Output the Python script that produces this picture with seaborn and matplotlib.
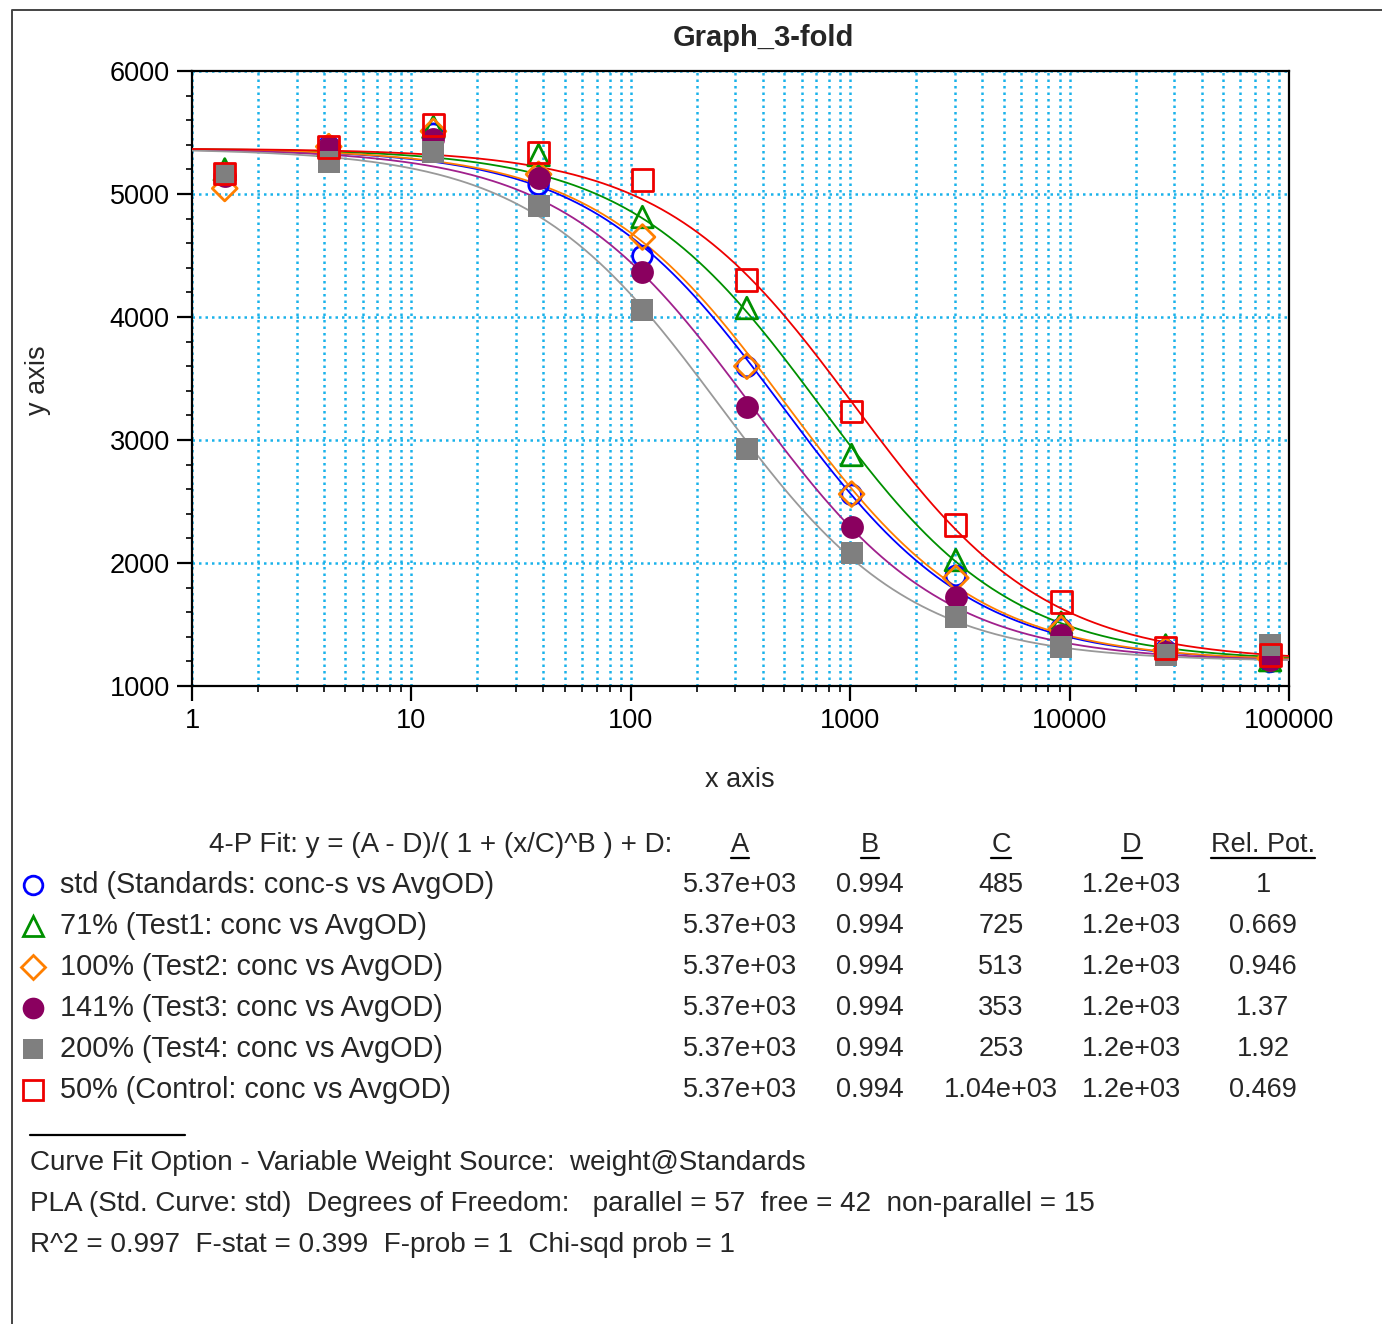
import matplotlib
matplotlib.use("Agg")
import matplotlib.pyplot as plt
import numpy as np
import pandas as pd
import seaborn as sns
from matplotlib.lines import Line2D
from matplotlib.ticker import FixedLocator, FuncFormatter, LogLocator, MultipleLocator, NullFormatter

# 3-fold dilution series (x) and averaged OD (y) per sample
CONC = [1.41, 4.2, 12.6, 38, 113, 338, 1015, 3030, 9150, 27400, 82000]
STD = [5150, 5390, 5490, 5075, 4496, 3594, 2555, 1895, 1465, 1290, 1195]
TEST1 = [5200, 5395, 5545, 5317, 4813, 4073, 2878, 2024, 1515, 1330, 1210]
TEST2 = [5045, 5385, 5510, 5160, 4650, 3600, 2560, 1878, 1465, 1290, 1225]
TEST3 = [5150, 5380, 5450, 5130, 4366, 3268, 2293, 1724, 1415, 1280, 1215]
TEST4 = [5160, 5260, 5340, 4902, 4057, 2927, 2081, 1561, 1317, 1252, 1335]
CONTROL = [5163, 5382, 5561, 5341, 5114, 4301, 3228, 2309, 1683, 1309, 1252]

NAMES = ["std", "71%", "100%", "141%", "200%", "50%"]
LABELS = [
    "std (Standards: conc-s vs AvgOD)",
    "71% (Test1: conc vs AvgOD)",
    "100% (Test2: conc vs AvgOD)",
    "141% (Test3: conc vs AvgOD)",
    "200% (Test4: conc vs AvgOD)",
    "50% (Control: conc vs AvgOD)",
]

# 4-P fit parameters from the table under the graph
FIT_A = [5370, 5370, 5370, 5370, 5370, 5370]
FIT_B = [0.994, 0.994, 0.994, 0.994, 0.994, 0.994]
FIT_C = [485, 725, 513, 353, 253, 1040]
FIT_D = [1200, 1200, 1200, 1200, 1200, 1200]
REL_POT = [1, 0.669, 0.946, 1.37, 1.92, 0.469]

FOOTER = [
    "Curve Fit Option - Variable Weight Source:  weight@Standards",
    "PLA (Std. Curve: std)  Degrees of Freedom:   parallel = 57  free = 42  non-parallel = 15",
    "R^2 = 0.997  F-stat = 0.399  F-prob = 1  Chi-sqd prob = 1",
]

MARKER_COLORS = ["#0000ff", "#009000", "#ff7f00", "#8a005f", "#7f7f7f", "#ee0000"]
LINE_COLORS = ["#0000ff", "#009000", "#ff7f00", "#a0208c", "#999999", "#ee0000"]
MARKERS = ["o", "^", "D", "o", "s", "s"]
FILLED = [False, False, False, True, True, False]
SIZES = [200, 240, 160, 270, 230, 230]
GRID = "#1ab2ea"

W, H = 1382, 1324
FS = 19.5

sns.set_style("ticks")
plt.rcParams["font.family"] = ["Liberation Sans", "DejaVu Sans"]


def fx(px):
    return px / W


def fy(py):
    return 1 - py / H


fig = plt.figure(figsize=(W / 100, H / 100), dpi=100)
ax = fig.add_axes([fx(192), fy(686), (1289 - 192) / W, (686 - 71) / H])

# points
values = [STD, TEST1, TEST2, TEST3, TEST4, CONTROL]
pts = pd.DataFrame({
    "conc": np.tile(CONC, len(NAMES)),
    "od": np.concatenate(values),
    "sample": np.repeat(NAMES, len(CONC)),
})

# fitted curves from the table parameters
xs = np.logspace(0, 5, 300)
curves = pd.concat([
    pd.DataFrame({"conc": xs,
                  "od": (a - d) / (1 + (xs / c) ** b) + d,
                  "sample": n})
    for n, a, b, c, d in zip(NAMES, FIT_A, FIT_B, FIT_C, FIT_D)
])

for i, name in enumerate(NAMES):
    sub = curves[curves["sample"] == name]
    sns.lineplot(data=sub, x="conc", y="od", color=LINE_COLORS[i], lw=1.3,
                 ax=ax, zorder=3 + i, legend=False)
for i, name in enumerate(NAMES):
    sub = pts[pts["sample"] == name]
    col = MARKER_COLORS[i]
    sns.scatterplot(data=sub, x="conc", y="od", marker=MARKERS[i], s=SIZES[i],
                    color=col, edgecolor=col,
                    facecolor=col if FILLED[i] else "none",
                    linewidth=0 if FILLED[i] else 2.0,
                    ax=ax, zorder=10 + i, legend=False)

ax.set_xscale("log")
ax.set_xlim(1, 100000)
ax.set_ylim(1000, 6000)
ax.xaxis.set_major_locator(LogLocator(base=10, numticks=10))
ax.xaxis.set_minor_locator(LogLocator(base=10, subs=np.arange(2, 10), numticks=20))
ax.xaxis.set_major_formatter(FuncFormatter(lambda v, _: f"{v:g}"))
ax.xaxis.set_minor_formatter(NullFormatter())
ax.yaxis.set_major_locator(FixedLocator([1000, 2000, 3000, 4000, 5000, 6000]))
ax.yaxis.set_minor_locator(MultipleLocator(200))

ax.grid(True, which="both", axis="x", color=GRID, linestyle=(0, (1, 1.6)), lw=1.8)
ax.grid(True, which="major", axis="y", color=GRID, linestyle=(0, (1, 1.6)), lw=1.8)
ax.set_axisbelow(True)
for sp in ax.spines.values():
    sp.set_color("black")
    sp.set_linewidth(1.6)
    sp.set_visible(True)
ax.tick_params(which="major", direction="out", length=11, width=1.6,
               labelsize=FS, pad=5, colors="black")
ax.tick_params(which="minor", direction="out", length=4.5, width=1.4)
ax.set_xlabel("")
ax.set_ylabel("")

fig.text(fx(763), fy(38), "Graph_3-fold", ha="center", va="center",
         fontsize=21, fontweight="bold")
fig.text(fx(740), fy(780), "x axis", ha="center", va="center", fontsize=FS)
fig.text(fx(38), fy(380), "y axis", ha="center", va="center", fontsize=FS,
         rotation=90)

# fit table
fig.text(fx(672), fy(845), "4-P Fit: y = (A - D)/( 1 + (x/C)^B ) + D:",
         ha="right", va="center", fontsize=20)
col_x = [740, 870, 1001, 1132, 1263]
headers = ["A", "B", "C", "D", "Rel. Pot."]
head_txt = [fig.text(fx(cx), fy(845), h, ha="center", va="center", fontsize=FS)
            for cx, h in zip(col_x, headers)]

row_y = [885, 926, 967, 1008, 1049, 1090]
for i, ry in enumerate(row_y):
    col = MARKER_COLORS[i]
    fig.add_artist(Line2D([fx(33)], [fy(ry)], marker=MARKERS[i],
                          markersize=np.sqrt(SIZES[i]) * 0.95,
                          markerfacecolor=col if FILLED[i] else "none",
                          markeredgecolor=col, markeredgewidth=0 if FILLED[i] else 2.0,
                          linestyle="none"))
    fig.text(fx(60), fy(ry), LABELS[i], ha="left", va="center", fontsize=20.8)
    cells = [FIT_A[i], FIT_B[i], FIT_C[i], FIT_D[i], REL_POT[i]]
    for cx, v in zip(col_x, cells):
        fig.text(fx(cx), fy(ry), f"{v:.3g}", ha="center", va="center", fontsize=FS)

# underline the column headers
fig.canvas.draw()
renderer = fig.canvas.get_renderer()
for t in head_txt:
    bb = t.get_window_extent(renderer)
    fig.add_artist(Line2D([bb.x0 / W, bb.x1 / W], [fy(858), fy(858)],
                          color="black", lw=1.6))

# footer
fig.add_artist(Line2D([fx(30), fx(185)], [fy(1135), fy(1135)], color="black", lw=1.6))
for k, line in enumerate(FOOTER):
    fig.text(fx(30), fy(1163 + 41 * k), line, ha="left", va="center", fontsize=20.1)

# outer frame of the panel
fig.add_artist(Line2D([fx(12), fx(12), fx(1382)], [fy(1324), fy(10), fy(10)],
                      color="#444444", lw=1.4))

fig.savefig("out.png", dpi=100)
